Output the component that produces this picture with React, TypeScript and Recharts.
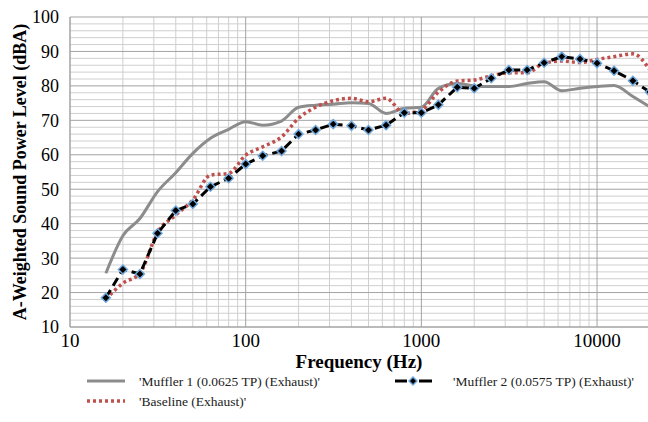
import { LineChart, Line, XAxis, YAxis, ReferenceLine } from 'recharts'

// 1/3 octave band centre frequencies (Hz)
const freqs = [16, 20, 25, 31.5, 40, 50, 63, 80, 100, 125, 160, 200, 250, 315, 400, 500, 630, 800, 1000, 1250, 1600, 2000, 2500, 3150, 4000, 5000, 6300, 8000, 10000, 12500, 16000, 20000]

const muffler1 = [25.6, 36.5, 41.5, 49.3, 54.8, 60.4, 64.8, 67.4, 69.6, 68.6, 69.8, 73.8, 74.4, 74.7, 75.1, 74.9, 72.0, 73.5, 73.8, 79.3, 80.7, 80.0, 79.8, 79.8, 80.7, 81.2, 78.6, 79.3, 79.8, 80.1, 76.9, 73.9]
const muffler2 = [18.5, 26.7, 25.4, 37.2, 43.8, 45.7, 50.7, 53.2, 57.3, 59.7, 61.1, 66.0, 67.2, 68.9, 68.4, 67.2, 68.6, 72.2, 72.2, 74.5, 79.6, 79.3, 82.2, 84.6, 84.6, 86.7, 88.5, 87.8, 86.6, 84.4, 81.5, 78.2]
const baseline = [18.1, 22.7, 25.6, 37.5, 42.5, 46.9, 54.1, 54.6, 59.9, 62.3, 65.2, 70.6, 73.8, 75.7, 76.4, 75.4, 76.4, 72.0, 73.0, 78.2, 81.4, 81.7, 82.9, 83.8, 83.8, 86.6, 87.2, 86.8, 87.7, 88.5, 89.3, 84.6]

const xTicks = [10, 100, 1000, 10000]
const xMinor = [20, 30, 40, 50, 60, 70, 80, 90, 200, 300, 400, 500, 600, 700, 800, 900, 2000, 3000, 4000, 5000, 6000, 7000, 8000, 9000]
const yTicks = [10, 20, 30, 40, 50, 60, 70, 80, 90, 100]
const yMinor = [12, 14, 16, 18, 22, 24, 26, 28, 32, 34, 36, 38, 42, 44, 46, 48, 52, 54, 56, 58, 62, 64, 66, 68, 72, 74, 76, 78, 82, 84, 86, 88, 92, 94, 96, 98]

const data = freqs.map((f, i) => ({ f, m1: muffler1[i], m2: muffler2[i], base: baseline[i] }))

const FONT = '"Liberation Serif", "Times New Roman", serif'
const MINOR = '#cfcfcf'
const MAJOR = '#a3a3a3'

const Diamond = (props: any) => {
  const { cx, cy, index } = props
  if (cx == null || cy == null) return <g key={index} />
  return (
    <path
      key={index}
      d={`M${cx},${cy - 4.5} L${cx + 4.5},${cy} L${cx},${cy + 4.5} L${cx - 4.5},${cy} Z`}
      fill="#000"
      stroke="#6fa8dc"
      strokeWidth={1.5}
    />
  )
}

export default function App() {
  return (
    <div style={{ position: 'absolute', left: 0, top: 0, width: 648, height: 422, background: '#fff', fontFamily: FONT }}>
      <LineChart width={648} height={422} data={data} margin={{ top: 17, right: 0, bottom: 0, left: 0 }}>
        {yMinor.map(v => (
          <ReferenceLine key={'ym' + v} y={v} stroke={MINOR} strokeWidth={1} />
        ))}
        {xMinor.map(v => (
          <ReferenceLine key={'xm' + v} x={v} stroke={MINOR} strokeWidth={1} />
        ))}
        {yTicks.map(v => (
          <ReferenceLine key={'yM' + v} y={v} stroke={MAJOR} strokeWidth={1} />
        ))}
        {xTicks.map(v => (
          <ReferenceLine key={'xM' + v} x={v} stroke={MAJOR} strokeWidth={1} />
        ))}
        <XAxis
          dataKey="f"
          type="number"
          scale="log"
          domain={[10, 19500]}
          allowDataOverflow
          ticks={xTicks}
          tickLine={false}
          axisLine={{ stroke: MAJOR }}
          height={95}
          tick={{ fontSize: 19, fill: '#000', fontFamily: FONT }}
          tickMargin={1}
          label={{ value: 'Frequency (Hz)', position: 'insideTop', offset: 28, style: { fontSize: 19, fontWeight: 'bold', fill: '#000', fontFamily: FONT } }}
        />
        <YAxis
          type="number"
          domain={[10, 100]}
          ticks={yTicks}
          width={70}
          tickLine={false}
          axisLine={{ stroke: MAJOR }}
          tick={{ fontSize: 18, fill: '#000', fontFamily: FONT }}
          tickMargin={5}
          label={{ value: 'A-Weighted Sound Power Level (dBA)', angle: -90, position: 'insideLeft', offset: 20, style: { fontSize: 18, fontWeight: 'bold', fill: '#000', fontFamily: FONT, textAnchor: 'middle' } }}
        />
        <Line type="monotone" dataKey="m1" stroke="#8c8c8c" strokeWidth={3} dot={false} isAnimationActive={false} />
        <Line type="monotone" dataKey="base" stroke="#c0504d" strokeWidth={3.5} strokeDasharray="3 3" dot={false} isAnimationActive={false} />
        <Line type="linear" dataKey="m2" stroke="#000" strokeWidth={3} strokeDasharray="9 5" dot={Diamond} isAnimationActive={false} />
      </LineChart>
      <svg width={648} height={50} style={{ position: 'absolute', left: 0, top: 366 }}>
        <line x1={87} x2={125} y1={15} y2={15} stroke="#8c8c8c" strokeWidth={3} />
        <text x={139} y={19.5} fontSize={13.5} fontFamily={FONT} fill="#222">'Muffler 1 (0.0625 TP) (Exhaust)'</text>
        <line x1={395} x2={407} y1={15} y2={15} stroke="#000" strokeWidth={3} />
        <line x1={419} x2={432} y1={15} y2={15} stroke="#000" strokeWidth={3} />
        <path d="M413,11 L417,15 L413,19 L409,15 Z" fill="#000" stroke="#6fa8dc" strokeWidth={1.5} />
        <text x={453} y={19.5} fontSize={13.5} fontFamily={FONT} fill="#222">'Muffler 2 (0.0575 TP) (Exhaust)'</text>
        <line x1={87} x2={125} y1={35} y2={35} stroke="#c0504d" strokeWidth={3.5} strokeDasharray="3 3" />
        <text x={139} y={39.5} fontSize={13.5} fontFamily={FONT} fill="#222">'Baseline (Exhaust)'</text>
      </svg>
    </div>
  )
}
